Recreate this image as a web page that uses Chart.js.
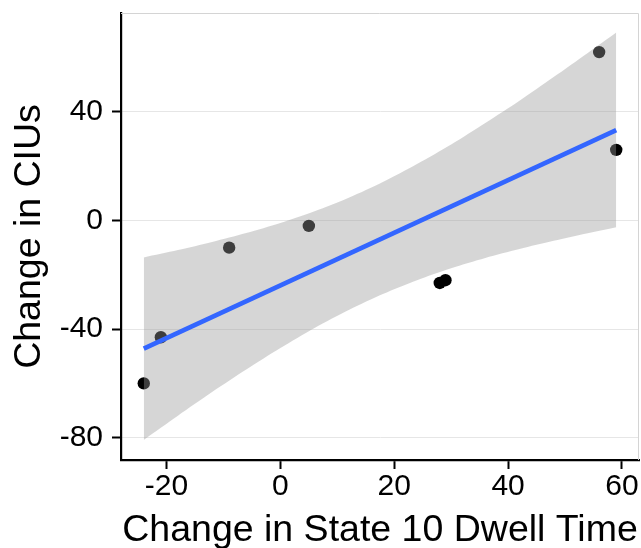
<!DOCTYPE html>
<html>
<head>
<meta charset="utf-8">
<script src="https://cdn.jsdelivr.net/npm/chart.js@4.4.1/dist/chart.umd.min.js"></script>
<style>
  html, body { margin: 0; padding: 0; background: #fff; }
  #wrap { width: 641px; height: 548px; }
</style>
</head>
<body>
<div id="wrap"><canvas id="chart" width="641" height="548"></canvas></div>
<script>
// observed points
var pointX = [-24, -21, -9, 5, 28, 29, 56, 59];
var pointY = [-60, -43, -10, -2, -23, -22, 62, 26];

// fitted line (ends)
var fitX = [-24, 59];
var fitY = [-47.2, 33.3];

// confidence band, read at several x positions
var bandX  = [-24, -18, -12, -6, 0, 6, 12, 18, 24, 30, 36, 42, 48, 54, 59];
var bandLo = [-80.8, -71.9, -63.2, -54.9, -47.0, -39.6, -33.0, -27.1, -22.0, -17.6, -13.8, -10.5, -7.5, -4.7, -2.5];
var bandHi = [-13.6, -10.9, -7.9, -4.6, -0.9, 3.4, 8.4, 14.2, 20.8, 28.0, 35.9, 44.1, 52.8, 61.7, 69.2];

var xTicks = [-20, 0, 20, 40, 60];
var yTicks = [-80, -40, 0, 40];

function pairs(xs, ys) {
    var out = [];
    for (var i = 0; i < xs.length; i++) {
        out.push({ x: xs[i], y: ys[i] });
    }
    return out;
}

// keep tick labels from pushing the plot area around
function noPad(s) {
    s.paddingLeft = 0; s.paddingRight = 0; s.paddingTop = 0; s.paddingBottom = 0;
}

const panelBorder = {
    id: 'panelBorder',
    beforeDatasetsDraw(chart) {
        const a = chart.chartArea;
        const ctx = chart.ctx;
        ctx.save();
        ctx.strokeStyle = '#d4d4d4';
        ctx.lineWidth = 1;
        ctx.beginPath();
        ctx.moveTo(a.left, a.top + 0.5);
        ctx.lineTo(a.right - 0.5, a.top + 0.5);
        ctx.lineTo(a.right - 0.5, a.bottom);
        ctx.stroke();
        ctx.restore();
    }
};

const tickFont = { family: '"Liberation Sans", Arial, sans-serif', size: 30, lineHeight: 1 };
const titleFont = { family: '"Liberation Sans", Arial, sans-serif', size: 37.5, lineHeight: 0.9 };

new Chart(document.getElementById('chart'), {
    type: 'scatter',
    data: {
        datasets: [
            {
                label: 'fit',
                data: pairs(fitX, fitY),
                showLine: true,
                borderColor: '#3366FF',
                borderWidth: 4.6,
                pointRadius: 0,
                fill: false,
                order: 0
            },
            {
                label: 'lower',
                data: pairs(bandX, bandLo),
                showLine: true,
                borderWidth: 0,
                borderColor: 'rgba(0,0,0,0)',
                pointRadius: 0,
                tension: 0.3,
                fill: false,
                order: 1
            },
            {
                label: 'upper',
                data: pairs(bandX, bandHi),
                showLine: true,
                borderWidth: 0,
                borderColor: 'rgba(0,0,0,0)',
                backgroundColor: 'rgba(153,153,153,0.4)',
                pointRadius: 0,
                tension: 0.3,
                fill: { target: 1 },
                order: 1
            },
            {
                label: 'points',
                data: pairs(pointX, pointY),
                backgroundColor: '#000',
                borderWidth: 0,
                pointRadius: 6.2,
                order: 2
            }
        ]
    },
    options: {
        responsive: false,
        animation: false,
        layout: { autoPadding: false, padding: { top: 13, right: 2, left: 0, bottom: 0 } },
        plugins: {
            legend: { display: false },
            tooltip: { enabled: false }
        },
        scales: {
            x: {
                type: 'linear',
                min: -28,
                max: 63,
                afterFit: function (s) { s.height = 88; noPad(s); },
                afterBuildTicks: function (s) { s.ticks = xTicks.map(v => ({ value: v })); },
                ticks: { font: tickFont, color: '#000', padding: 3, maxRotation: 0 },
                grid: { drawOnChartArea: false, tickLength: 9, tickColor: '#000', tickWidth: 2 },
                border: { display: true, color: '#000', width: 2.2 },
                title: { display: true, text: 'Change in State 10 Dwell Time', font: titleFont, color: '#000', padding: 0 }
            },
            y: {
                type: 'linear',
                min: -88.2,
                max: 76.4,
                afterFit: function (s) { s.width = 121; noPad(s); },
                afterBuildTicks: function (s) { s.ticks = yTicks.map(v => ({ value: v })); },
                ticks: { font: tickFont, color: '#000', padding: 9 },
                grid: { color: '#e6e6e6', lineWidth: 1, tickLength: 9, tickColor: '#000', tickWidth: 2 },
                border: { display: true, color: '#000', width: 2.2 },
                title: { display: true, text: 'Change in CIUs', font: titleFont, color: '#000', padding: { top: 13, bottom: 0 } }
            }
        }
    },
    plugins: [panelBorder]
});
</script>
</body>
</html>
